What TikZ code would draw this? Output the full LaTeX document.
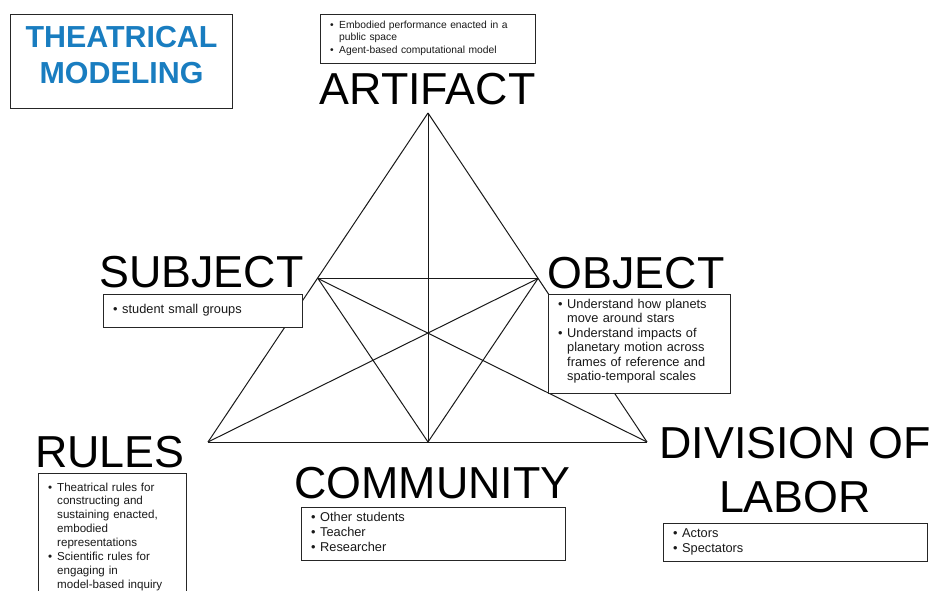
\documentclass[tikz,border=0pt]{standalone}
\usepackage{fontspec}
\setmainfont{Liberation Sans}
\definecolor{titleblue}{RGB}{25,125,192}
\newcommand{\bul}{\makebox[9pt][l]{•}}
\newcommand{\cont}{\hspace*{9pt}}
\begin{document}
\begin{tikzpicture}[x=1pt,y=-1pt,
  tri/.style={line width=1pt, draw=black!90},
  infobox/.style={draw=black!85, line width=1.1pt, fill=white, inner sep=0pt, anchor=north west},
  big/.style={font=\fontsize{44.8}{44.8}\selectfont, inner sep=0pt, anchor=base},
  titletext/.style={font=\bfseries\fontsize{30.4}{36}\selectfont, text=titleblue, inner sep=0pt, anchor=base},
  itemtext/.style={inner sep=0pt, anchor=base west, align=left, text width=260pt, text=black!90},
  itemfont/.style={font=\fontsize{12.8}{15}\selectfont},
]
\useasboundingbox (0,0) rectangle (933,590);

% vertices
\coordinate (A) at (428,113);
\coordinate (S) at (318,278.5);
\coordinate (O) at (538,278.5);
\coordinate (R) at (208,442);
\coordinate (D) at (647,442);
\coordinate (C) at (428,442);

% connectors
\draw[tri] (A) -- (R);
\draw[tri] (A) -- (D);
\draw[tri] (R) -- (D);
\draw[tri] (S) -- (O);
\draw[tri] (A) -- (C);
\draw[tri] (S) -- (D);
\draw[tri] (O) -- (R);
\draw[tri] (S) -- (C);
\draw[tri] (O) -- (C);

% title
\node[infobox, minimum width=222pt, minimum height=94pt] (titlebox) at (10,14) {};
\node[titletext] (title1) at (121.5,47) {THEATRICAL};
\node[titletext] (title2) at (121.5,83) {MODELING};

% artifact
\node[infobox, minimum width=215pt, minimum height=49pt] (artbox) at (320,14) {};
\node[itemtext, font=\fontsize{10.3}{12.8}\selectfont] (arttext) at (330,28)
  {\bul Embodied performance enacted in a\\ \cont public space\\ \bul Agent-based computational model};
\node[big] (artlabel) at (427.5,104) {ARTIFACT};

% subject
\node[big] (subjlabel) at (201.5,287) {SUBJECT};
\node[infobox, minimum width=199pt, minimum height=33pt] (subjbox) at (103,294) {};
\node[itemtext, itemfont] (subjtext) at (113,313) {\bul student small groups};

% object
\node[big] (objlabel) at (636,288) {OBJECT};
\node[infobox, minimum width=182pt, minimum height=99pt] (objbox) at (548,294) {};
\node[itemtext, font=\fontsize{12.8}{14.4}\selectfont] (objtext) at (558,308.5)
  {\bul Understand how planets\\ \cont move around stars\\ \bul Understand impacts of\\ \cont planetary motion across\\ \cont frames of reference and\\ \cont spatio-temporal scales};

% rules
\node[big] (ruleslabel) at (110,467) {RULES};
\node[infobox, minimum width=148pt, minimum height=127pt] (rulesbox) at (38,473) {};
\node[itemtext, font=\fontsize{11.6}{13.9}\selectfont] (rulestext) at (48,491)
  {\bul Theatrical rules for\\ \cont constructing and\\ \cont sustaining enacted,\\ \cont embodied\\ \cont representations\\ \bul Scientific rules for\\ \cont engaging in\\ \cont model-based inquiry};

% community
\node[big] (commlabel) at (432.5,498) {COMMUNITY};
\node[infobox, minimum width=264pt, minimum height=53pt] (commbox) at (301,507) {};
\node[itemtext, itemfont] (commtext) at (311,521)
  {\bul Other students\\ \bul Teacher\\ \bul Researcher};

% division of labor
\node[big] (divlabel1) at (795,458) {DIVISION OF};
\node[big] (divlabel2) at (795,512) {LABOR};
\node[infobox, minimum width=264pt, minimum height=38pt] (divbox) at (663,523) {};
\node[itemtext, itemfont] (divtext) at (673,537)
  {\bul Actors\\ \bul Spectators};
\end{tikzpicture}
\end{document}
